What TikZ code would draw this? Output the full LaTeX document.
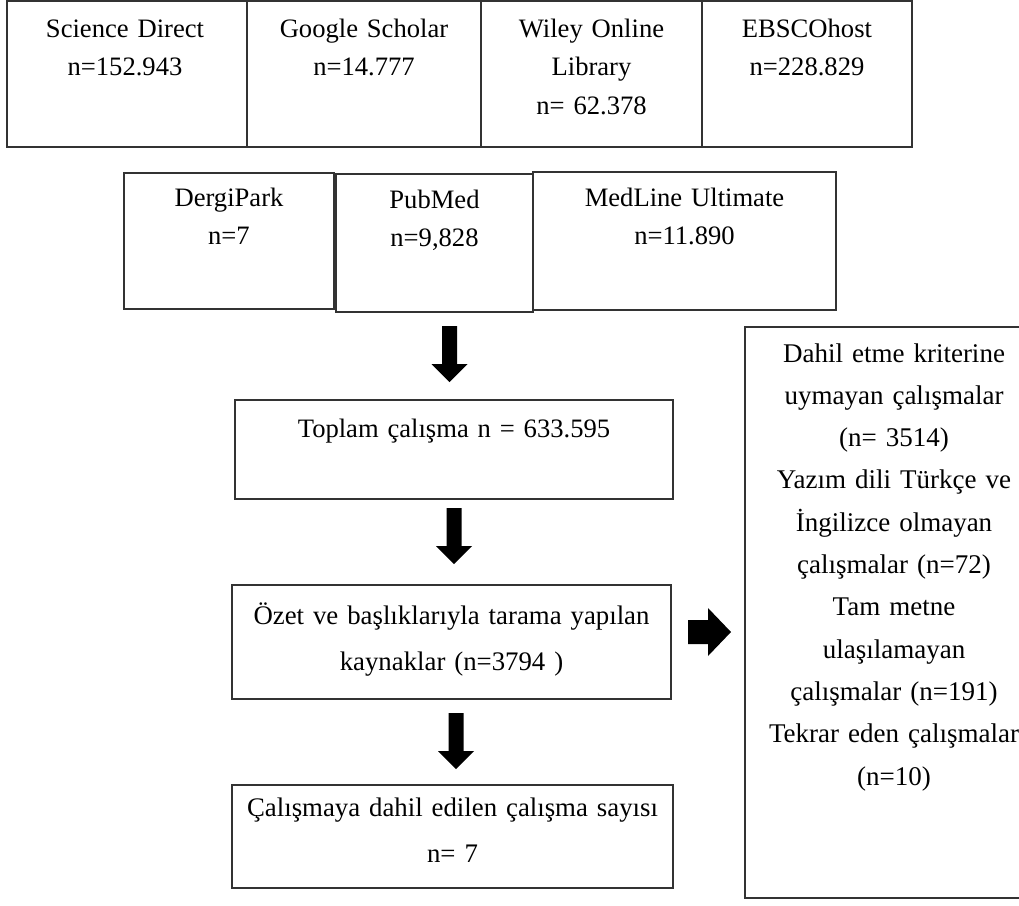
\documentclass[tikz,border=0pt]{standalone}
\usepackage{fontspec}
\setmainfont{Liberation Serif}
\usetikzlibrary{fit}
\begin{document}
\begin{tikzpicture}[x=0.5pt,y=-0.5pt,
  box/.style={draw=black!80, line width=0.75pt, inner sep=0pt},
  txt/.style={anchor=base, inner sep=0pt, align=center, text width=240pt, font=\fontsize{13.3}{19.25}\selectfont},
  txtwide/.style={txt, font=\fontsize{13.4}{23}\selectfont},
  txtright/.style={txt, font=\fontsize{13.5}{21.15}\selectfont},
  downarr/.pic={\fill (-7.5,0) -- (7.5,0) -- (7.5,38) -- (18,38) -- (0,56) -- (-18,38) -- (-7.5,38) -- cycle;},
  rightarr/.pic={\fill (0,-12) -- (20,-12) -- (20,-24) -- (43,0) -- (20,24) -- (20,12) -- (0,12) -- cycle;}
]
\useasboundingbox (0,0) rectangle (1019,906);
\fill[white] (0,0) rectangle (1019,906);

% top row
\node[box, fit={(7,1) (247,147)}] (sd) {};
\node[box, fit={(247,1) (481,147)}] (gs) {};
\node[box, fit={(481,1) (702,147)}] (wol) {};
\node[box, fit={(702,1) (912,147)}] (ebsco) {};
\node[txt] (sdt) at (125,37) {Science Direct\\n=152.943};
\node[txt] (gst) at (364,37) {Google Scholar\\n=14.777};
\node[txt] (wolt) at (591.5,37) {Wiley Online\\Library\\n= 62.378};
\node[txt] (ebscot) at (807,37) {EBSCOhost\\n=228.829};

% second row
\node[box, fit={(124,173) (334,309)}] (dp) {};
\node[box, fit={(336,174) (533,312)}] (pm) {};
\node[box, fit={(533,172) (836,310)}] (ml) {};
\node[txt] (dpt) at (229,206) {DergiPark\\n=7};
\node[txt] (pmt) at (434.5,208) {PubMed\\n=9,828};
\node[txt] (mlt) at (684.5,206) {MedLine Ultimate\\n=11.890};

% arrows
\coordinate (a1) at (449.5,326);
\coordinate (a2) at (454,508);
\coordinate (a3) at (456,713);
\coordinate (a4) at (688,632);
\pic at (a1) {downarr};
\pic at (a2) {downarr};
\pic at (a3) {downarr};
\pic at (a4) {rightarr};

% flow boxes
\node[box, fit={(235,400) (673,499)}] (tot) {};
\node[txt] (tott) at (454,437) {Toplam çalışma n = 633.595};

\node[box, fit={(232,585) (671,699)}] (ozet) {};
\node[txtwide] (ozett) at (451.5,624) {Özet ve başlıklarıyla tarama yapılan\\kaynaklar (n=3794 )};

\node[box, fit={(232,785) (673,888)}] (dahil) {};
\node[txtwide] (dahilt) at (452.5,816) {Çalışmaya dahil edilen çalışma sayısı\\n= 7};

% exclusion box
\node[box, fit={(745,327) (1043,898)}] (excl) {};
\node[txtright] (exclt) at (894,362) {Dahil etme kriterine\\uymayan çalışmalar\\(n= 3514)\\Yazım dili Türkçe ve\\İngilizce olmayan\\çalışmalar (n=72)\\Tam metne\\ulaşılamayan\\çalışmalar (n=191)\\Tekrar eden çalışmalar\\(n=10)};
\end{tikzpicture}
\end{document}
